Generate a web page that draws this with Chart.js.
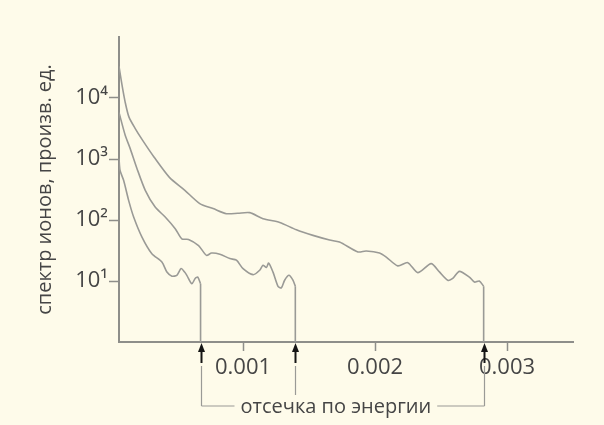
<!DOCTYPE html>
<html lang="ru">
<head>
    <meta charset="UTF-8">
    <title>Спектр ионов</title>
    <script src="https://cdn.jsdelivr.net/npm/chart.js"></script>
    <style>
        html, body {
            margin: 0;
            padding: 0;
            background: #fefbea;
        }
        canvas {
            display: block;
        }
    </style>
</head>
<body>
    <canvas id="ionChart" width="604" height="425"></canvas>
    <script>
        // energy (x) and ion spectrum (y)
        const lowX = [0.00006, 0.000068, 0.000095, 0.000133, 0.000171, 0.000234, 0.000309, 0.000385, 0.000423,
            0.000461, 0.000498, 0.000531, 0.000557, 0.000574, 0.000612, 0.000637, 0.000657, 0.000678];
        const lowY = [1020, 650, 447, 210, 112, 52.5, 28, 20.5, 14, 12, 12.4, 16, 14, 12.4, 9, 11, 11.6, 9];

        const midX = [0.00006, 0.000107, 0.000145, 0.000196, 0.000259, 0.000334, 0.00041, 0.000486, 0.000536,
            0.000587, 0.000663, 0.000723, 0.000761, 0.000824, 0.0009, 0.00095, 0.001, 0.001076, 0.001126,
            0.001151, 0.001177, 0.001194, 0.001227, 0.001265, 0.00129, 0.001315, 0.001348, 0.001378, 0.001396];
        const midY = [5800, 2450, 1480, 700, 307, 163, 112, 72, 49, 48, 38, 26.3, 28.7, 27.5, 23.3, 21.9, 15.9,
            12.7, 15, 18.1, 16.6, 19.7, 14, 8.2, 7.7, 10.3, 12.4, 10.3, 8.2];

        const highX = [0.00006, 0.000082, 0.000107, 0.000135, 0.000183, 0.000238, 0.000325, 0.000442, 0.000559,
            0.000672, 0.000773, 0.000874, 0.00096, 0.001051, 0.001151, 0.001278, 0.001404, 0.00153, 0.001656,
            0.001731, 0.00187, 0.001933, 0.002034, 0.002085, 0.002172, 0.002248, 0.002324, 0.002425, 0.002488,
            0.002551, 0.002589, 0.002639, 0.002715, 0.002753, 0.00279, 0.002823];
        const highY = [33000, 16700, 8500, 4900, 3150, 2040, 1080, 500, 307, 186, 154, 127, 129, 132, 105, 91,
            69, 56, 47, 43.5, 30, 31, 28.8, 24.7, 17.7, 20, 13.7, 19.3, 14.1, 10.3, 11, 14.4, 11.6, 9.6, 10, 8.2];

        // energy cut-offs (end of each curve)
        const cutoffs = [0.000678, 0.001396, 0.002823];

        const xTickValues = [0.001, 0.002, 0.003];
        const xTickLabels = ['0.001', '0.002', '0.003'];
        const yTickValues = [10, 100, 1000, 10000];
        const yTickLabels = ['10¹', '10²', '10³', '10⁴'];

        const yTitle = 'спектр ионов, произв. ед.';
        const cutoffLabel = 'отсечка по энергии';

        const curveGray = '#9a9a96';
        const axisGray = '#8e8e8a';
        const textColor = '#454545';
        const fontFamily = "'Open Sans', 'Noto Sans', sans-serif";

        const toPoints = (xs, ys) => xs.map((x, i) => ({ x: x, y: ys[i] }));
        const curves = [toPoints(lowX, lowY), toPoints(midX, midY), toPoints(highX, highY)];

        const datasets = curves.map(pts => ({
            data: pts,
            borderColor: curveGray,
            borderWidth: 1.6,
            pointRadius: 0,
            tension: 0.25,
            fill: false
        }));
        // vertical drop from the end of each curve to the axis
        curves.forEach(pts => {
            const last = pts[pts.length - 1];
            datasets.push({
                data: [{ x: last.x, y: last.y }, { x: last.x, y: 1 }],
                borderColor: curveGray,
                borderWidth: 1.6,
                pointRadius: 0,
                tension: 0,
                fill: false
            });
        });

        // arrows and bracket under the x axis
        const cutoffArrows = {
            id: 'cutoffArrows',
            afterDraw(chart) {
                const ctx = chart.ctx;
                const xs = chart.scales.x;
                const y0 = chart.chartArea.bottom;
                const px = cutoffs.map(v => Math.round(xs.getPixelForValue(v)) + 0.5);
                const yLine = y0 + 64;

                ctx.save();
                ctx.font = '20px ' + fontFamily;
                const textLeft = px[0] + 39;
                const textW = ctx.measureText(cutoffLabel).width;

                ctx.strokeStyle = curveGray;
                ctx.lineWidth = 1.2;
                px.forEach((p, i) => {
                    ctx.beginPath();
                    ctx.moveTo(p, y0 + 24);
                    ctx.lineTo(p, i === 1 ? y0 + 53 : yLine);
                    ctx.stroke();
                });
                ctx.beginPath();
                ctx.moveTo(px[0], yLine);
                ctx.lineTo(textLeft - 6, yLine);
                ctx.moveTo(textLeft + textW + 6, yLine);
                ctx.lineTo(px[2], yLine);
                ctx.stroke();

                ctx.fillStyle = '#151515';
                ctx.strokeStyle = '#151515';
                ctx.lineWidth = 2;
                px.forEach(p => {
                    ctx.beginPath();
                    ctx.moveTo(p, y0 + 7);
                    ctx.lineTo(p, y0 + 21);
                    ctx.stroke();
                    ctx.beginPath();
                    ctx.moveTo(p, y0 + 1);
                    ctx.lineTo(p - 3.5, y0 + 10);
                    ctx.lineTo(p + 3.5, y0 + 10);
                    ctx.closePath();
                    ctx.fill();
                });

                ctx.fillStyle = textColor;
                ctx.textAlign = 'left';
                ctx.textBaseline = 'alphabetic';
                ctx.fillText(cutoffLabel, textLeft, y0 + 71);
                ctx.restore();
            }
        };

        new Chart(document.getElementById('ionChart').getContext('2d'), {
            type: 'line',
            data: { datasets: datasets },
            options: {
                responsive: false,
                animation: false,
                layout: { padding: { top: 37, right: 31, left: 0, bottom: 0 } },
                plugins: {
                    legend: { display: false },
                    tooltip: { enabled: false }
                },
                scales: {
                    x: {
                        type: 'linear',
                        min: 0.00006,
                        max: 0.0035,
                        afterBuildTicks: s => { s.ticks = xTickValues.map(v => ({ value: v })); },
                        afterFit: s => { s.height = 83; },
                        grid: { drawOnChartArea: false, tickLength: 9, tickColor: axisGray, tickWidth: 1.5 },
                        border: { color: axisGray, width: 2 },
                        ticks: {
                            color: textColor,
                            font: { family: fontFamily, size: 22 },
                            padding: 4,
                            maxRotation: 0,
                            autoSkip: false,
                            callback: (v, i) => xTickLabels[i]
                        }
                    },
                    y: {
                        type: 'logarithmic',
                        min: 1,
                        max: 100000,
                        afterBuildTicks: s => { s.ticks = yTickValues.map(v => ({ value: v })); },
                        afterFit: s => { s.width = 119; },
                        grid: { drawOnChartArea: false, tickLength: 10, tickColor: axisGray, tickWidth: 1.5 },
                        border: { color: axisGray, width: 2 },
                        ticks: {
                            color: textColor,
                            font: { family: fontFamily, size: 22 },
                            padding: 1,
                            autoSkip: false,
                            callback: (v, i) => yTickLabels[i]
                        },
                        title: {
                            display: true,
                            text: yTitle,
                            color: textColor,
                            font: { family: fontFamily, size: 20 },
                            padding: { top: 33, bottom: 0 }
                        }
                    }
                }
            },
            plugins: [cutoffArrows]
        });
    </script>
</body>
</html>
